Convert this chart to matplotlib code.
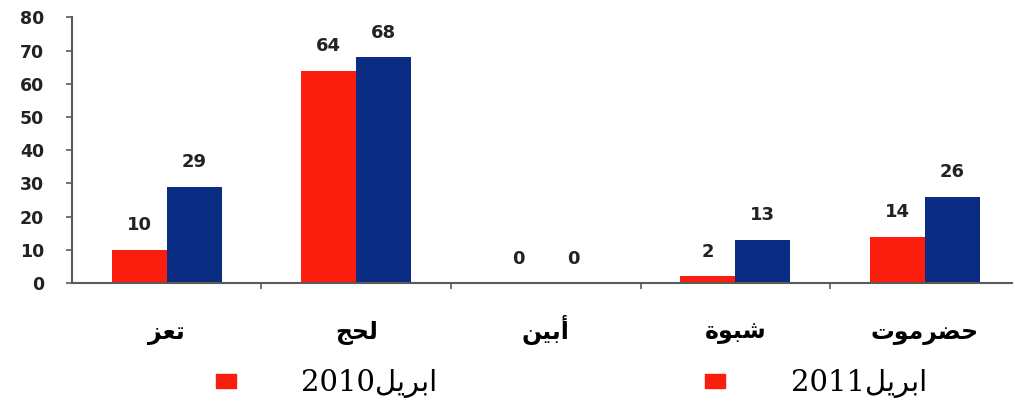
import matplotlib
matplotlib.use("Agg")
from matplotlib import pyplot as plt
from matplotlib.lines import Line2D
from matplotlib.path import Path
import numpy as np

# Governorates (logical Arabic order) and counts for the two periods
governorates = ["تعز", "لحج", "أبين", "شبوة", "حضرموت"]
april_2010 = [10, 64, 0, 2, 14]
april_2011 = [29, 68, 0, 13, 26]
month_name = "ابريل"
years = ["2010", "2011"]
y_ticks = [0, 10, 20, 30, 40, 50, 60, 70, 80]

RED = "#fb1d0d"
BLUE = "#0b2c83"
AXIS_COLOR = "#5a5a5a"

# Arabic presentation forms: isolated, final, initial, medial
# (None for letters that do not join to the following letter)
FORMS = {
    "ا": ("\uFE8D", "\uFE8E", None, None),
    "أ": ("\uFE83", "\uFE84", None, None),
    "ب": ("\uFE8F", "\uFE90", "\uFE91", "\uFE92"),
    "ة": ("\uFE93", "\uFE94", None, None),
    "ت": ("\uFE95", "\uFE96", "\uFE97", "\uFE98"),
    "ج": ("\uFE9D", "\uFE9E", "\uFE9F", "\uFEA0"),
    "ح": ("\uFEA1", "\uFEA2", "\uFEA3", "\uFEA4"),
    "ر": ("\uFEAD", "\uFEAE", None, None),
    "ز": ("\uFEAF", "\uFEB0", None, None),
    "ش": ("\uFEB5", "\uFEB6", "\uFEB7", "\uFEB8"),
    "ض": ("\uFEBD", "\uFEBE", "\uFEBF", "\uFEC0"),
    "ع": ("\uFEC9", "\uFECA", "\uFECB", "\uFECC"),
    "ل": ("\uFEDD", "\uFEDE", "\uFEDF", "\uFEE0"),
    "م": ("\uFEE1", "\uFEE2", "\uFEE3", "\uFEE4"),
    "ن": ("\uFEE5", "\uFEE6", "\uFEE7", "\uFEE8"),
    "و": ("\uFEED", "\uFEEE", None, None),
    "ي": ("\uFEF1", "\uFEF2", "\uFEF3", "\uFEF4"),
}


def shape(word):
    # join letters and return them in left-to-right drawing order
    out = []
    for i, ch in enumerate(word):
        iso, fin, ini, med = FORMS[ch]
        prev_joins = i > 0 and FORMS[word[i - 1]][2] is not None
        next_joins = i < len(word) - 1 and ini is not None
        if prev_joins and next_joins:
            out.append(med)
        elif prev_joins:
            out.append(fin)
        elif next_joins:
            out.append(ini)
        else:
            out.append(iso)
    return "".join(reversed(out))


fig = plt.figure(figsize=(10.15, 4.08), dpi=100)
ax = fig.add_axes([0.0709, 0.3064, 0.9261, 0.6510])

x = np.arange(len(governorates))
w = 0.29
bars_2010 = ax.bar(x - w / 2, april_2010, w, color=RED, zorder=2)
bars_2011 = ax.bar(x + w / 2, april_2011, w, color=BLUE, zorder=2)

for bars, vals in [(bars_2010, april_2010), (bars_2011, april_2011)]:
    for b, v in zip(bars, vals):
        ax.annotate(str(v), (b.get_x() + b.get_width() / 2, v),
                    xytext=(0, 14), textcoords="offset points",
                    ha="center", va="baseline", fontsize=13,
                    fontweight="bold", color="#222222",
                    family="DejaVu Sans")

ax.set_xlim(-0.5, 4.46)
ax.set_ylim(0, 80)
ax.set_yticks(y_ticks)
ax.set_yticklabels([str(t) for t in y_ticks], fontsize=12.5,
                   fontweight="bold", color="#222222", family="DejaVu Sans")
ax.set_xticks(x)
ax.set_xticklabels([shape(g) for g in governorates], fontsize=17,
                   fontweight="bold", family="DejaVu Sans", va="baseline")
ax.set_xticks(x[:-1] + 0.5, minor=True)
ax.tick_params(axis="x", which="major", length=0, pad=40)
ax.tick_params(axis="x", which="minor", length=4, width=1.2, color=AXIS_COLOR)
ax.tick_params(axis="y", length=4, width=1.2, color=AXIS_COLOR, pad=16)

for side in ["top", "right"]:
    ax.spines[side].set_visible(False)
for side in ["left", "bottom"]:
    ax.spines[side].set_color(AXIS_COLOR)
    ax.spines[side].set_linewidth(1.5)

# wide rectangular legend swatch
swatch = Path([(-0.7, -0.5), (0.7, -0.5), (0.7, 0.5), (-0.7, 0.5), (-0.7, -0.5)],
              [Path.MOVETO, Path.LINETO, Path.LINETO, Path.LINETO, Path.CLOSEPOLY])
handles = [Line2D([], [], ls="none", marker=swatch, markersize=15,
                  markerfacecolor=RED, markeredgecolor=RED) for _ in years]
labels = [yr + shape(month_name) for yr in years]
fig.legend(handles, labels, loc="center left", bbox_to_anchor=(0.182, 0.06),
           ncol=2, frameon=False, handlelength=1.0, handletextpad=2.1,
           columnspacing=9.0,
           prop={"family": ["DejaVu Serif", "DejaVu Sans"], "size": 21})

fig.savefig("out.png", dpi=100, facecolor="white")
